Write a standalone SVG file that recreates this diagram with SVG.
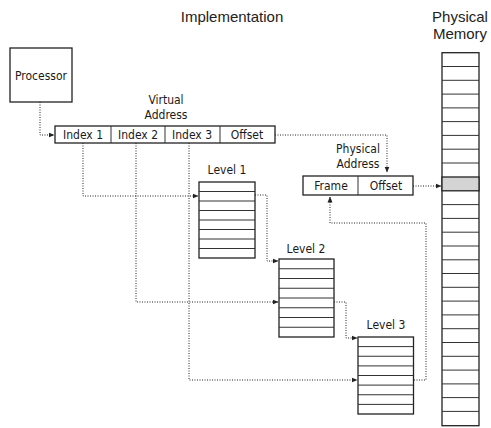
<svg xmlns="http://www.w3.org/2000/svg" width="491" height="428" viewBox="0 0 491 428">
  <style>
    .bg { fill: #ffffff; }
    .box { fill: #ffffff; stroke: #222222; stroke-width: 1.3; }
    .row { stroke: #333333; stroke-width: 1; fill: none; }
    .hl { fill: #d4d4d4; stroke: #222222; stroke-width: 1.3; }
    .lbl { font-family: "Liberation Sans Narrow", "DejaVu Sans Condensed", "Liberation Sans", sans-serif; font-size: 12px; fill: #1a1a1a; text-anchor: middle; }
    .title { font-family: "Liberation Sans", Arial, sans-serif; font-size: 15px; fill: #222222; text-anchor: middle; }
    .dot { fill: none; stroke: #222222; stroke-width: 1; stroke-dasharray: 1 1.5; }
  </style>
  <defs>
    <marker id="arrow" viewBox="0 0 6 6" refX="5.5" refY="3" markerWidth="6" markerHeight="6" markerUnits="userSpaceOnUse" orient="auto">
      <path d="M0,0.5 L6,3 L0,5.5 z" fill="#222222"/>
    </marker>
  </defs>
  <rect class="bg" x="0" y="0" width="491" height="428"/>

  <!-- Headings -->
  <text class="title" x="232" y="22">Implementation</text>
  <text class="title" x="460" y="22">Physical</text>
  <text class="title" x="460" y="39">Memory</text>

  <!-- Connectors -->
  <g id="connectors">
    <path class="dot" d="M40,102 V135 H54" marker-end="url(#arrow)"/>
    <path class="dot" d="M275,135 H387 V172" marker-end="url(#arrow)"/>
    <path class="dot" d="M413,186 H441" marker-end="url(#arrow)"/>
    <path class="dot" d="M83,143 V196 H198" marker-end="url(#arrow)"/>
    <path class="dot" d="M136,143 V302 H278" marker-end="url(#arrow)"/>
    <path class="dot" d="M189,143 V380 H357" marker-end="url(#arrow)"/>
    <path class="dot" d="M255,195 H267 V261 H278" marker-end="url(#arrow)"/>
    <path class="dot" d="M334,302 H346 V338 H357" marker-end="url(#arrow)"/>
    <path class="dot" d="M414,380 H426 V223 H330 V197" marker-end="url(#arrow)"/>
  </g>

  <!-- Processor -->
  <g id="processor">
    <rect class="box" x="10" y="48" width="62" height="54"/>
    <text class="lbl" x="41" y="80">Processor</text>
  </g>

  <!-- Virtual address -->
  <g id="virtual-address">
    <text class="lbl" x="166" y="104">Virtual</text>
    <text class="lbl" x="166" y="119">Address</text>
    <rect class="box" x="55" y="126" width="220" height="17"/>
    <path class="row" d="M111,126 V143 M165,126 V143 M220,126 V143"/>
    <text class="lbl" x="83" y="139">Index 1</text>
    <text class="lbl" x="138" y="139">Index 2</text>
    <text class="lbl" x="192" y="139">Index 3</text>
    <text class="lbl" x="247" y="139">Offset</text>
  </g>

  <!-- Physical address -->
  <g id="physical-address">
    <text class="lbl" x="358" y="153">Physical</text>
    <text class="lbl" x="358" y="168">Address</text>
    <rect class="box" x="303" y="176" width="110" height="19"/>
    <path class="row" d="M358,176 V195"/>
    <text class="lbl" x="331" y="190">Frame</text>
    <text class="lbl" x="386" y="190">Offset</text>
  </g>

  <!-- Level 1 table -->
  <g id="level1">
    <text class="lbl" x="227" y="174">Level 1</text>
    <rect class="box" x="199" y="182" width="56" height="76"/>
    <path class="row" d="M199,191.5 H255 M199,201 H255 M199,210.5 H255 M199,220 H255 M199,229.5 H255 M199,239 H255 M199,248.5 H255"/>
  </g>

  <!-- Level 2 table -->
  <g id="level2">
    <text class="lbl" x="306" y="253">Level 2</text>
    <rect class="box" x="279" y="259" width="55" height="78"/>
    <path class="row" d="M279,268.75 H334 M279,278.5 H334 M279,288.25 H334 M279,298 H334 M279,307.75 H334 M279,317.5 H334 M279,327.25 H334"/>
  </g>

  <!-- Level 3 table -->
  <g id="level3">
    <text class="lbl" x="386" y="329">Level 3</text>
    <rect class="box" x="358" y="337" width="55.5" height="77"/>
    <path class="row" d="M358,346.6 H413.5 M358,356.25 H413.5 M358,365.9 H413.5 M358,375.5 H413.5 M358,385.1 H413.5 M358,394.75 H413.5 M358,404.4 H413.5"/>
  </g>

  <!-- Physical memory column: 27 frames, the 10th highlighted -->
  <g id="memory">
    <rect class="box" x="442" y="52.7" width="37" height="373"/>
    <rect class="hl" x="442" y="177" width="37" height="13.8"/>
    <path class="row" d="M442,66.5 H479 M442,80.3 H479 M442,94.1 H479 M442,107.9 H479 M442,121.6 H479 M442,135.4 H479 M442,149.2 H479 M442,163 H479 M442,204.6 H479 M442,218.4 H479 M442,232.2 H479 M442,246 H479 M442,259.8 H479 M442,273.5 H479 M442,287.3 H479 M442,301.1 H479 M442,314.9 H479 M442,328.7 H479 M442,342.5 H479 M442,356.3 H479 M442,370.1 H479 M442,383.9 H479 M442,397.6 H479 M442,411.4 H479"/>
  </g>
</svg>
